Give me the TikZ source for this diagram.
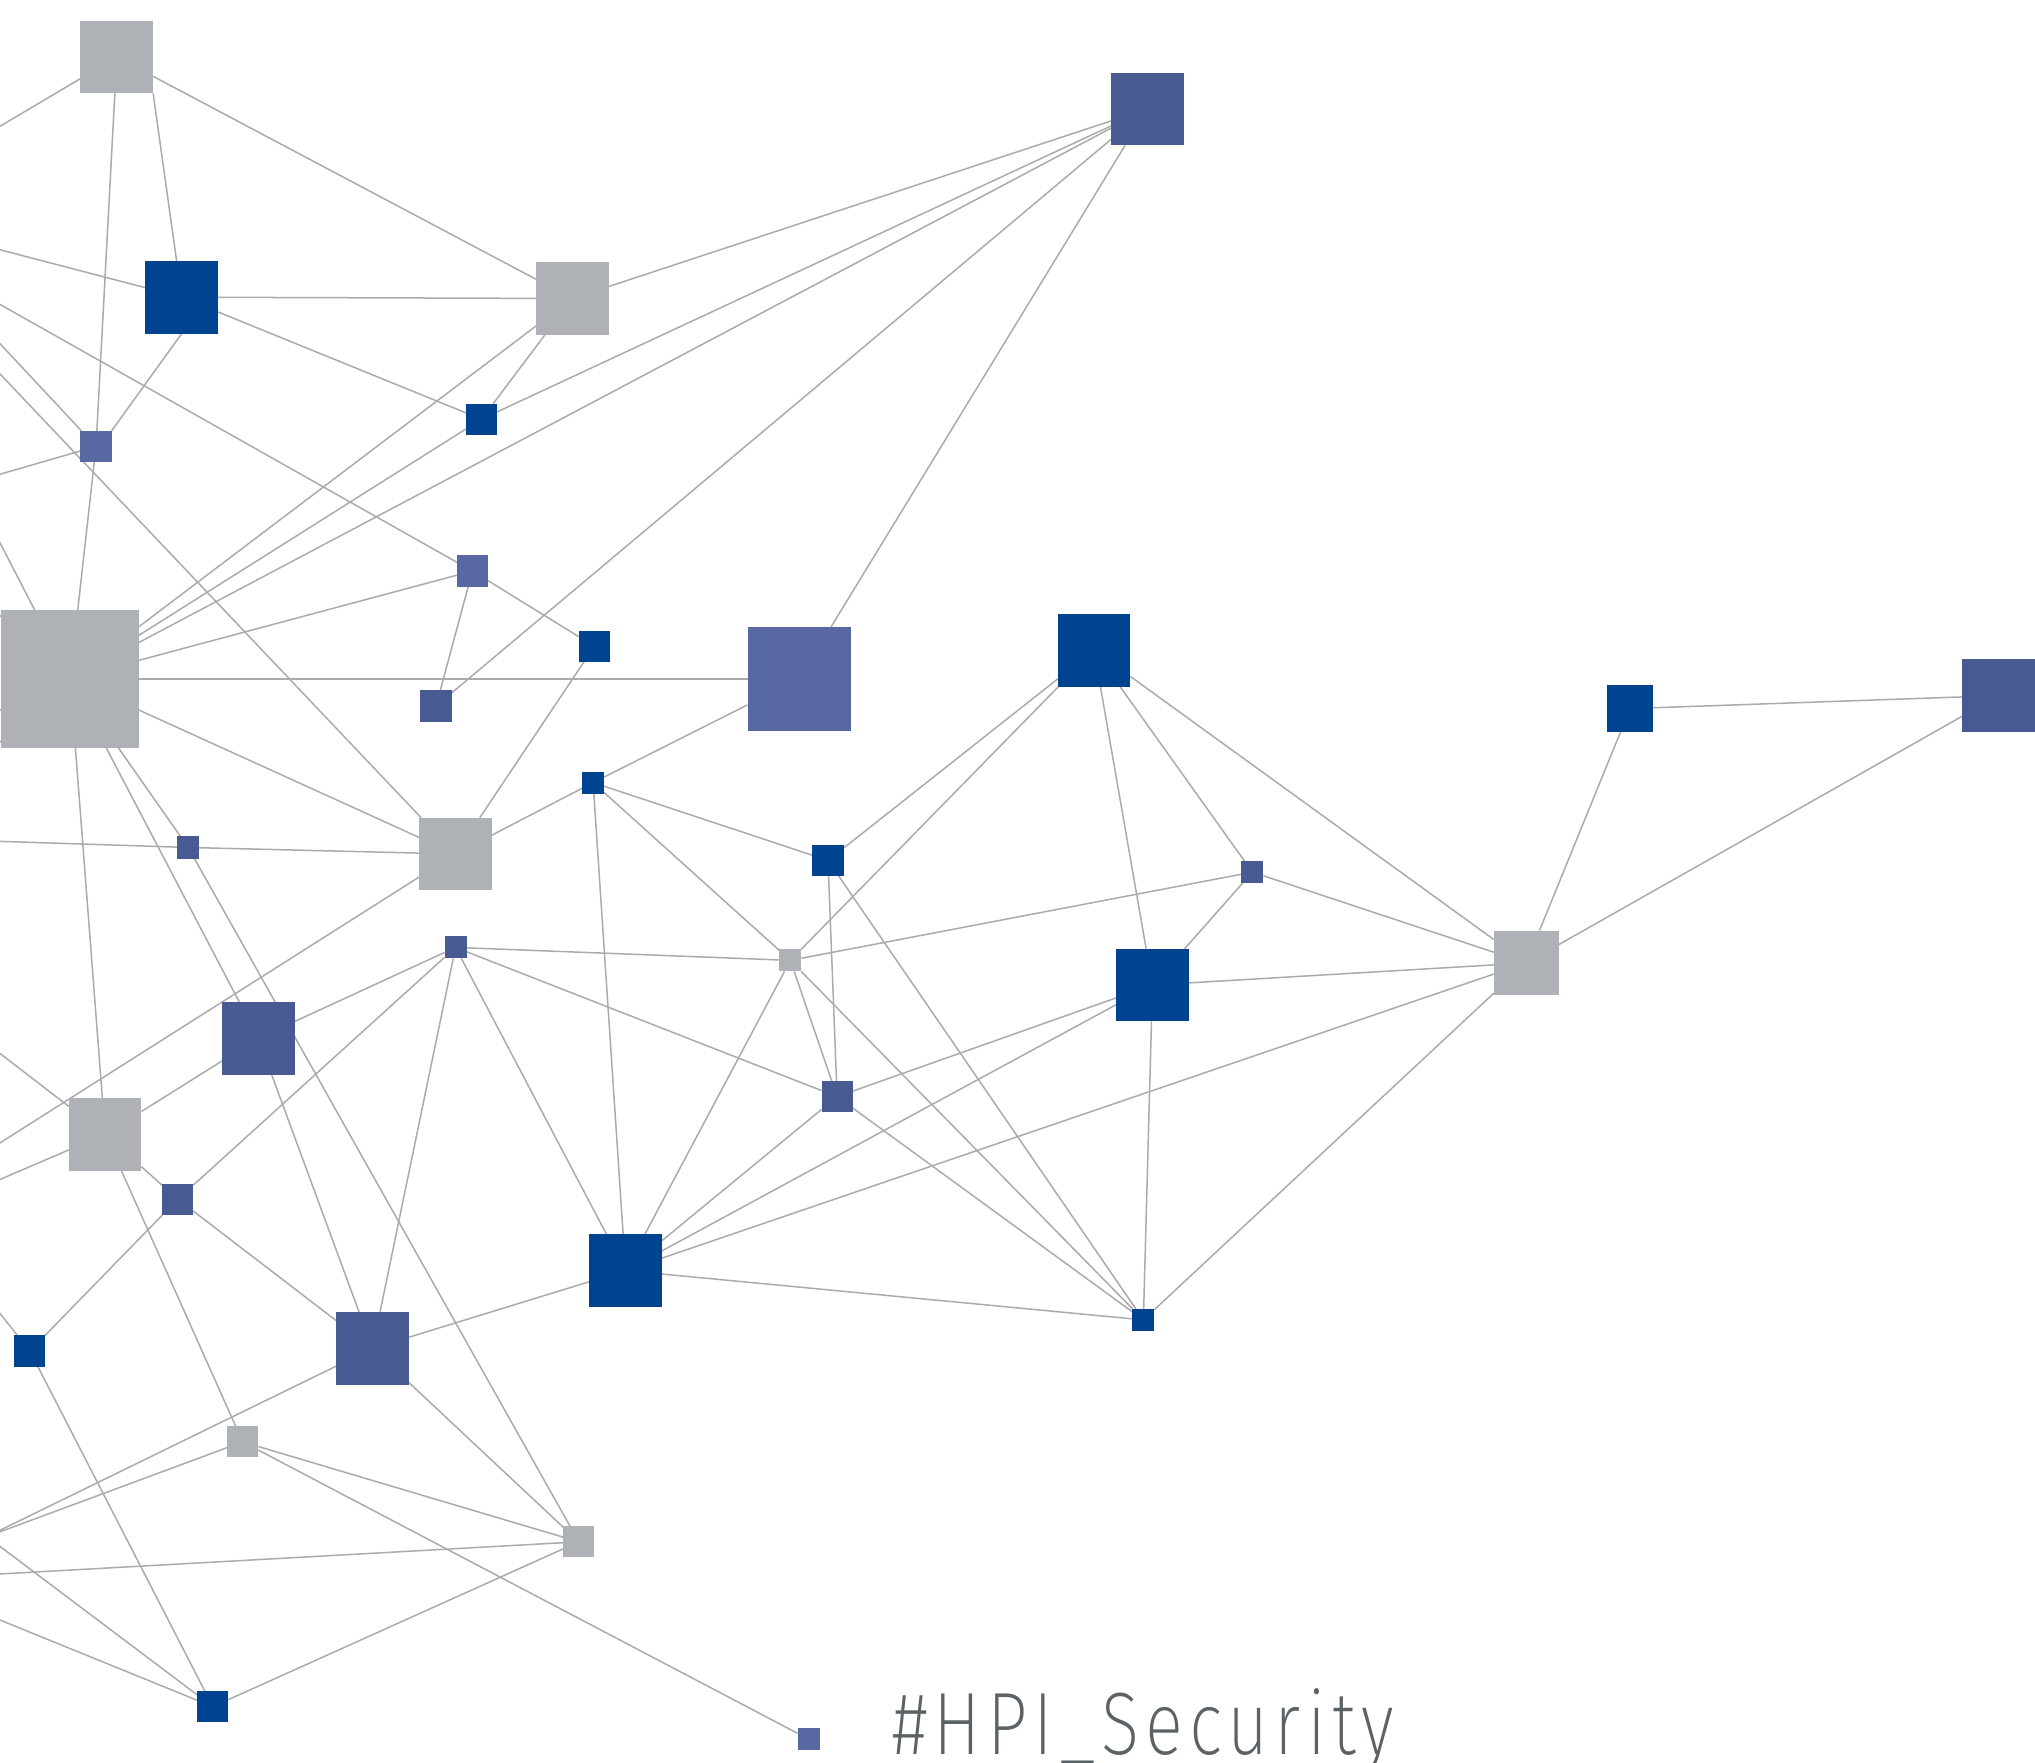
\documentclass[tikz,border=0pt]{standalone}
\usepackage{fontspec}
\usepackage{tikz}
\usetikzlibrary{positioning,backgrounds}
\newfontfamily\tagfont[FakeStretch=0.8,LetterSpace=7]{Fira Sans ExtraLight}
\definecolor{hpigray}{RGB}{174,178,182}
\definecolor{hpidark}{RGB}{0,68,145}
\definecolor{hpimid}{RGB}{71,91,146}
\definecolor{hpilight}{RGB}{88,104,163}
\definecolor{hpiline}{RGB}{171,171,171}
\definecolor{hpitext}{RGB}{91,98,102}
\tikzset{
  box/.style={rectangle, inner sep=0pt, outer sep=0pt},
  gry/.style={box, fill=hpigray, minimum size=#1},
  drk/.style={box, fill=hpidark, minimum size=#1},
  mid/.style={box, fill=hpimid, minimum size=#1},
  lgt/.style={box, fill=hpilight, minimum size=#1},
  link/.style={draw=hpiline, line width=0.33pt}
}

\begin{document}
\begin{tikzpicture}[x=0.01cm,y=-0.01cm]
  \useasboundingbox (0,0) rectangle (1568,1358);

  \node[gry=5.6mm] (g_1) at (90,44) {};
  \node[gry=5.6mm] (g_2) at (441,230) {};
  \node[gry=10.6mm] (g_3) at (54,523) {};
  \node[gry=5.6mm] (g_4) at (351,658) {};
  \node[gry=1.7mm] (g_5) at (609,740) {};
  \node[gry=5mm] (g_6) at (1176,742) {};
  \node[gry=5.6mm] (g_7) at (81,874) {};
  \node[gry=2.4mm] (g_8) at (187,1111) {};
  \node[gry=2.4mm] (g_9) at (446,1188) {};

  \node[drk=5.6mm] (d_1) at (140,229) {};
  \node[drk=2.4mm] (d_2) at (371,323) {};
  \node[drk=2.4mm] (d_3) at (458,498) {};
  \node[drk=5.6mm] (d_4) at (843,501) {};
  \node[drk=3.6mm] (d_5) at (1256,546) {};
  \node[drk=1.7mm] (d_6) at (457,603) {};
  \node[drk=2.4mm] (d_7) at (638,663) {};
  \node[drk=5.6mm] (d_8) at (888,759) {};
  \node[drk=5.6mm] (d_9) at (482,979) {};
  \node[drk=1.7mm] (d_10) at (881,1017) {};
  \node[drk=2.4mm] (d_11) at (23,1041) {};
  \node[drk=2.4mm] (d_12) at (164,1315) {};

  \node[mid=5.6mm] (m_1) at (884,84) {};
  \node[mid=2.4mm] (m_2) at (336,544) {};
  \node[mid=5.6mm] (m_3) at (1540,536) {};
  \node[mid=1.7mm] (m_4) at (145,653) {};
  \node[mid=1.7mm] (m_5) at (965,672) {};
  \node[mid=1.7mm] (m_6) at (351,730) {};
  \node[mid=5.6mm] (m_7) at (199,800) {};
  \node[mid=2.4mm] (m_8) at (645,845) {};
  \node[mid=2.4mm] (m_9) at (137,924) {};
  \node[mid=5.6mm] (m_10) at (287,1039) {};

  \node[lgt=2.4mm] (l_1) at (74,344) {};
  \node[lgt=2.4mm] (l_2) at (364,440) {};
  \node[lgt=8mm] (l_3) at (616,523) {};
  \node[lgt=1.7mm] (l_4) at (623,1340) {};

  \node[anchor=base west, inner sep=0pt, text=hpitext,
        font=\tagfont\fontsize{19.4pt}{20pt}\selectfont] (tag) at (687,1352) {\#HPI\_Security};

  \coordinate (w_1) at (-40,121);
  \coordinate (w_2) at (-40,182);
  \coordinate (w_3) at (-40,212);
  \coordinate (w_4) at (-40,222);
  \coordinate (w_5) at (-40,246);
  \coordinate (w_6) at (-40,377);
  \coordinate (w_7) at (-30,360);
  \coordinate (w_8) at (-40,438);
  \coordinate (w_9) at (-40,565);
  \coordinate (w_10) at (-40,608);
  \coordinate (w_11) at (-40,647);
  \coordinate (w_12) at (-40,781);
  \coordinate (w_13) at (-40,906);
  \coordinate (w_14) at (-40,926);
  \coordinate (w_15) at (-20,987);
  \coordinate (w_16) at (-10,1184);
  \coordinate (w_17) at (-40,1215);
  \coordinate (w_18) at (-40,1232);

  \begin{scope}[on background layer]
    \fill[white] (0,0) rectangle (1568,1358);
    \path[link]
    (g_1) edge (w_1)
    (g_1.south east) edge (d_1)
    (g_1) edge (g_2)
    (g_1) edge (l_1)
    (l_1) edge (g_3)
    (d_1) edge (w_2)
    (d_1) edge (g_2)
    (d_1) edge (d_2)
    (d_1.south) edge (l_1.north east)
    (g_2) edge (m_1)
    (g_2) edge (d_2)
    (g_2) edge (g_3)
    (m_1) edge (d_2)
    (m_1) edge (g_3)
    (m_1) edge (m_2)
    (m_1) edge (l_3)
    (d_2) edge (g_3)
    (l_1) edge (w_4)
    (l_1) edge (w_6)
    (g_3) edge (w_7)
    (g_3) edge (w_8)
    (g_3) edge (w_9)
    (g_3) edge (w_10)
    (g_3) edge (l_2)
    (g_3) edge (l_3)
    (g_3) edge (g_4)
    (g_3) edge (m_4)
    (g_3) edge (m_7)
    (g_3) edge (g_7)
    (l_2) edge (w_3)
    (l_2) edge (m_2)
    (l_2) edge (d_3)
    (d_3) edge (g_4)
    (l_3) edge (d_6)
    (d_6) edge (g_4)
    (d_6) edge (d_7)
    (d_6) edge (g_5)
    (d_6) edge (d_9)
    (g_4) edge (w_5)
    (g_4) edge (m_4)
    (g_4) edge (w_13)
    (m_4) edge (w_11)
    (m_4) edge (g_9)
    (d_4) edge (d_7)
    (d_4) edge (g_5)
    (d_4) edge (d_8)
    (d_4) edge (m_5)
    (d_4) edge (g_6)
    (d_7) edge (m_8)
    (d_7) edge (d_10)
    (m_5) edge (g_5)
    (m_5) edge (d_8)
    (m_5) edge (g_6)
    (g_5) edge (m_6)
    (g_5) edge (m_8)
    (g_5) edge (d_10)
    (g_5) edge (d_9)
    (m_6) edge (m_8)
    (m_6) edge (m_7)
    (m_6) edge (m_9)
    (m_6) edge (m_10)
    (m_6) edge (d_9)
    (m_8) edge (d_8)
    (m_8) edge (d_9)
    (m_8) edge (d_10)
    (d_8) edge (g_6)
    (d_8) edge (d_9)
    (d_8) edge (d_10)
    (g_6) edge (d_5)
    (g_6) edge (m_3)
    (g_6) edge (d_9)
    (g_6) edge (d_10)
    (d_5) edge (m_3)
    (d_9) edge (m_10)
    (d_9) edge (d_10)
    (m_7) edge (g_7)
    (m_7) edge (m_10)
    (g_7) edge (m_9)
    (g_7) edge (g_8)
    (g_7) edge (w_12)
    (g_7) edge (w_14)
    (m_9) edge (m_10)
    (m_9) edge (d_11)
    (d_11) edge (d_12)
    (d_11) edge (w_15)
    (m_10) edge (g_9)
    (m_10) edge (w_16)
    (g_8) edge (g_9)
    (g_8) edge (l_4)
    (g_8) edge (w_16)
    (g_9) edge (d_12)
    (g_9) edge (w_17)
    (d_12) edge (w_16)
    (d_12) edge (w_18)
    ;
  \end{scope}
\end{tikzpicture}
\end{document}
